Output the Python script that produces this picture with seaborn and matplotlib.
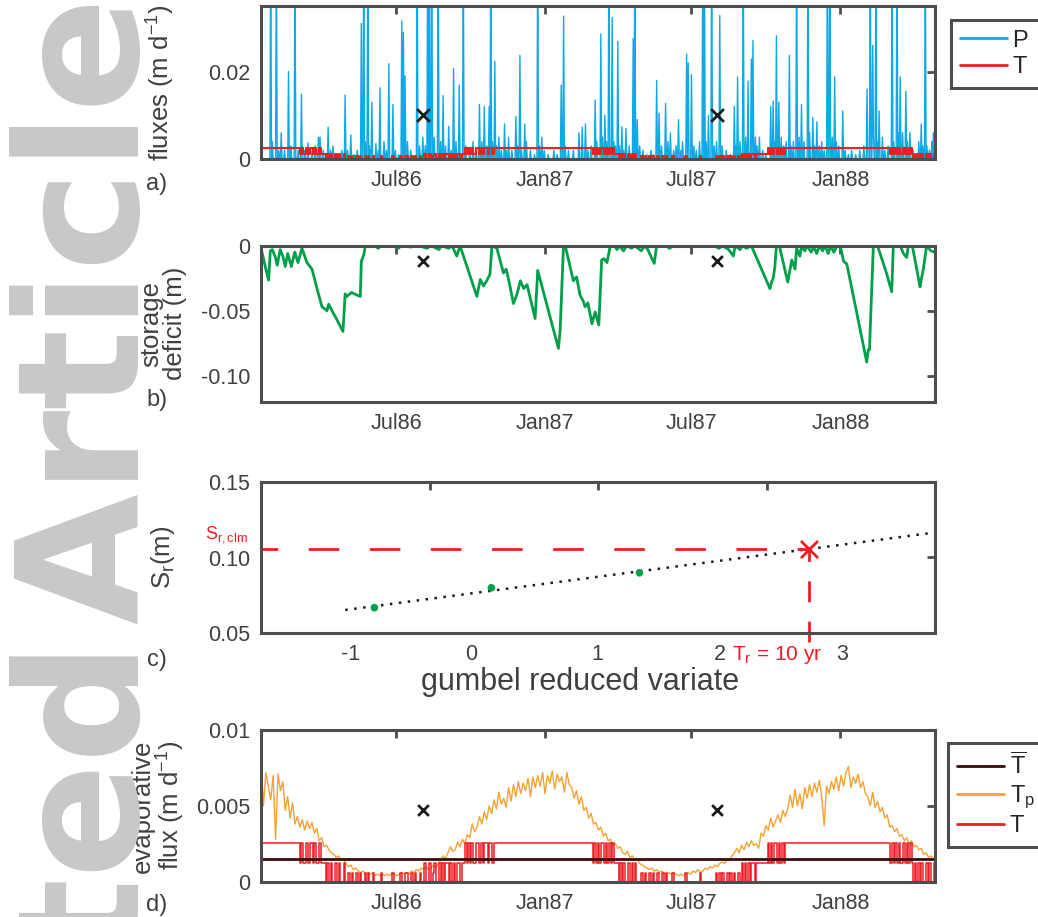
import numpy as np
import pandas as pd
import seaborn as sns
import matplotlib.pyplot as plt
import matplotlib.dates as mdates
from matplotlib.lines import Line2D

# ---------------- data ----------------
start = pd.Timestamp('1986-01-15')
n_days = 834

# rain events: day since start, P (m/d); 0.05 = spike clipped at top of axis
p_day = [11.5, 14, 19, 22, 25, 29, 34, 37, 42, 46, 50, 54, 58, 63, 67, 71, 73, 77, 83, 86,
         89, 95, 100, 104, 107, 111, 115, 119, 123.5, 127, 129, 132, 134, 137, 142, 145, 147, 152, 155, 158,
         163, 166, 170, 174, 176.5, 178, 181, 185, 193, 196, 200, 203, 206, 208, 211, 214, 218.6, 222, 225, 228,
         232, 235, 238, 241, 244.6, 249.5, 253, 258, 262, 266, 270, 273, 276, 279, 282, 284, 286, 289, 291, 294,
         297, 301, 303, 306, 310, 315, 317, 320, 322, 325.6, 328, 333, 338, 341.7, 344, 346.6, 350, 355, 362, 366,
         370.6, 373.5, 376, 380, 386, 393, 397, 401, 404, 408, 412.6, 415, 420, 422, 425, 427, 430, 433.6, 436, 438,
         441, 443, 446, 448, 451, 455, 460, 462, 465, 468, 472, 477, 482, 485, 489, 492, 495, 500, 503, 506,
         510, 513, 516, 519, 521, 526, 528, 531.6, 535, 538, 542, 545.5, 547.5, 550, 553, 557, 560, 563, 567, 570,
         575, 580, 585, 587, 589, 592, 596, 599, 602, 605.7, 608.5, 611, 613, 616, 620, 624, 630, 633, 635, 637.4,
         640, 643, 646, 649, 652.6, 655, 658, 662, 665, 668, 671, 675.7, 678, 682, 684, 687, 690, 693, 696, 700,
         703, 706, 708.6, 711, 714, 719, 722, 726, 730, 735, 740, 745, 749, 752.7, 755.5, 757, 759.7, 762, 764, 768,
         771, 775, 779.5, 782, 785.7, 788, 789.7, 793, 797, 799, 802, 806, 810, 813, 815.7, 818, 820.6, 823, 826, 829,
         831]
p_val = [0.05, 0.004, 0.05, 0.002, 0.006, 0.002, 0.020, 0.003, 0.05, 0.002, 0.0148, 0.002, 0.0037, 0.002, 0.003, 0.005, 0.005, 0.002, 0.0073, 0.002,
         0.003, 0.001, 0.002, 0.0146, 0.002, 0.0055, 0.001, 0.002, 0.031, 0.05, 0.004, 0.05, 0.003, 0.013, 0.0035, 0.002, 0.0163, 0.004, 0.002, 0.0218,
         0.0125, 0.002, 0.001, 0.0316, 0.029, 0.019, 0.004, 0.002, 0.05, 0.003, 0.005, 0.003, 0.05, 0.05, 0.05, 0.005, 0.05, 0.004, 0.0145, 0.003,
         0.0075, 0.002, 0.0207, 0.004, 0.0169, 0.05, 0.003, 0.002, 0.004, 0.002, 0.0125, 0.004, 0.012, 0.003, 0.012, 0.05, 0.004, 0.0223, 0.003, 0.005,
         0.002, 0.008, 0.002, 0.005, 0.002, 0.0097, 0.003, 0.0237, 0.002, 0.008, 0.004, 0.002, 0.001, 0.05, 0.003, 0.005, 0.002, 0.001, 0.002, 0.001,
         0.0169, 0.0327, 0.003, 0.002, 0.002, 0.006, 0.0073, 0.008, 0.002, 0.003, 0.0135, 0.004, 0.0286, 0.005, 0.010, 0.004, 0.05, 0.0324, 0.004, 0.003,
         0.0269, 0.003, 0.0074, 0.002, 0.007, 0.003, 0.0275, 0.05, 0.009, 0.003, 0.002, 0.001, 0.002, 0.001, 0.018, 0.0105, 0.003, 0.0127, 0.004, 0.006,
         0.002, 0.003, 0.009, 0.002, 0.004, 0.024, 0.022, 0.0193, 0.003, 0.002, 0.004, 0.05, 0.05, 0.004, 0.010, 0.05, 0.003, 0.004, 0.0328, 0.003,
         0.002, 0.001, 0.0121, 0.003, 0.0188, 0.004, 0.05, 0.005, 0.0178, 0.0229, 0.0271, 0.005, 0.003, 0.005, 0.002, 0.001, 0.012, 0.0133, 0.004, 0.0282,
         0.013, 0.005, 0.003, 0.004, 0.0237, 0.003, 0.004, 0.05, 0.005, 0.0125, 0.004, 0.05, 0.006, 0.0095, 0.003, 0.0085, 0.003, 0.004, 0.002, 0.05,
         0.05, 0.005, 0.0188, 0.004, 0.003, 0.011, 0.002, 0.001, 0.002, 0.001, 0.002, 0.003, 0.016, 0.05, 0.026, 0.005, 0.05, 0.004, 0.011, 0.005,
         0.002, 0.003, 0.05, 0.004, 0.05, 0.006, 0.0188, 0.006, 0.0155, 0.004, 0.006, 0.002, 0.001, 0.004, 0.008, 0.003, 0.05, 0.003, 0.002, 0.004,
         0.006]

# storage deficit (m), breakpoints
s_day = [0, 2.5, 6, 9.4, 11.5, 14, 17.6, 20, 23.8, 27, 30, 33, 37.5, 41.7, 45.8, 50.6, 56.8, 63, 69.2, 75.4,
         81.5, 83.6, 87.7, 93.9, 101.3, 104, 106, 112, 118.6, 122.7, 124, 127, 129, 140, 145, 148, 165, 170, 173, 185,
         195, 205, 210, 220, 223, 232, 236, 242, 246, 266.8, 271, 275, 279, 283, 285.4, 291.5, 299.7, 303, 306, 312,
         316.5, 320.6, 324.7, 328.8, 338.8, 342, 367.6, 369.7, 373.8, 376, 386, 390, 394.3, 398.5, 400.5, 404, 409, 413, 417.5, 421,
         424, 427.6, 431.7, 437, 440, 443, 448, 452, 458, 462, 470, 474, 478, 486, 489, 500, 505, 510, 560, 566,
         570, 578, 583.8, 586, 592, 595, 600, 606, 629, 631, 633, 635, 637, 641, 651, 656, 660, 662, 666, 668,
         672, 675, 680, 683, 687, 690, 694, 697, 701, 704, 708, 712, 716, 720, 724, 748.6, 750.5, 752, 756.8, 762,
         773, 779.5, 781.5, 790, 794, 798, 800, 805, 814.5, 816, 818.6, 822.7, 828, 833]
s_val = [-0.002, -0.0085, -0.018, -0.0265, -0.004, -0.003, -0.0085, -0.015, -0.003, -0.008, -0.016, -0.006, -0.016, -0.005, -0.013, -0.002, -0.013, -0.018, -0.033, -0.047,
         -0.050, -0.045, -0.050, -0.057, -0.066, -0.037, -0.039, -0.036, -0.038, -0.039, -0.012, -0.007, 0.0, 0.0, -0.002, 0.0, 0.0, -0.002, 0.0, -0.001,
         0.0, -0.002, 0.0, -0.003, 0.0, -0.002, 0.0, -0.008, 0.0, -0.039, -0.026, -0.031, -0.027, -0.022, 0.0, -0.002, -0.021, -0.018, -0.026, -0.0445,
         -0.037, -0.027, -0.033, -0.030, -0.056, -0.019, -0.079, -0.065, -0.001, 0.0, -0.027, -0.024, -0.038, -0.043, -0.047, -0.044, -0.060, -0.051, -0.061, -0.011,
         -0.010, -0.013, 0.0, 0.0, -0.003, 0.0, -0.004, 0.0, -0.002, 0.0, -0.004, 0.0, -0.003, -0.0136, 0.0, 0.0, -0.002, 0.0, 0.0, -0.002,
         0.0, -0.003, -0.008, 0.0, -0.003, 0.0, -0.002, 0.0, -0.033, -0.028, -0.025, -0.017, 0.0, -0.001, -0.028, -0.011, -0.018, -0.002, -0.008, 0.0,
         -0.004, 0.0, -0.005, -0.001, -0.006, 0.0, -0.004, 0.0, -0.006, 0.0, -0.005, 0.0, 0.0, -0.012, -0.014, -0.0895, -0.080, -0.080, 0.0, 0.0,
         -0.021, -0.0355, 0.0, 0.0, -0.006, -0.009, 0.0, 0.0, -0.0317, -0.026, -0.018, 0.0, -0.004, -0.005]

# potential transpiration Tp (mm/d), one value every 3 days
tp_mm = [8.0, 5.0, 7.2, 6.3, 5.4, 7.0, 2.8, 7.1, 6.0, 6.6,
         4.7, 5.6, 4.2, 5.2, 3.8, 4.3, 3.6, 4.1, 3.4, 4.0,
         3.5, 3.9, 3.2, 3.5, 2.7, 2.9, 2.3, 2.4, 2.1, 1.9,
         1.8, 1.6, 1.7, 1.4, 1.5, 1.2, 1.0, 1.1, 0.8, 0.9,
         0.7, 0.6, 0.7, 0.5, 0.6, 0.5, 0.6, 0.4, 0.5, 0.4,
         0.5, 0.4, 0.5, 0.4, 0.6, 0.5, 0.4, 0.5, 0.6, 0.5,
         0.6, 0.5, 0.7, 0.6, 0.8, 0.7, 0.9, 0.8, 1.0, 0.8,
         0.9, 1.1, 0.9, 1.2, 1.4, 1.7, 1.5, 1.9, 2.3, 2.0,
         2.1, 2.6, 2.3, 2.8, 2.5, 3.1, 2.9, 3.8, 3.3, 3.6,
         4.3, 3.8, 4.6, 4.1, 5.0, 4.5, 5.4, 4.8, 5.9, 5.1,
         5.5, 4.9, 6.2, 5.3, 6.4, 5.6, 6.6, 5.8, 6.5, 6.0,
         6.8, 5.6, 6.9, 6.2, 7.0, 6.3, 7.2, 5.8, 7.0, 6.5,
         7.3, 6.1, 7.1, 6.6, 6.9, 5.9, 7.2, 6.4, 6.2, 5.5,
         6.0, 5.1, 5.6, 4.7, 4.9, 4.2, 4.5, 3.8, 3.9, 3.4,
         3.6, 3.0, 3.2, 2.7, 2.8, 2.4, 2.5, 2.2, 2.3, 1.9,
         1.8, 2.0, 1.6, 1.7, 1.4, 1.5, 1.2, 1.1, 1.0, 0.9,
         0.8, 0.9, 0.7, 0.8, 0.6, 0.7, 0.6, 0.5, 0.6, 0.5,
         0.6, 0.5, 0.4, 0.5, 0.4, 0.5, 0.6, 0.5, 0.7, 0.6,
         0.8, 0.6, 0.7, 0.9, 0.8, 1.0, 0.9, 1.1, 1.0, 1.2,
         1.3, 1.2, 1.5, 1.4, 1.7, 1.9, 2.2, 1.9, 2.4, 2.1,
         2.6, 2.3, 2.7, 2.4, 2.5, 2.2, 3.2, 3.0, 3.7, 3.4,
         4.2, 3.6, 4.0, 4.4, 3.9, 4.7, 4.3, 4.8, 5.7, 4.9,
         6.1, 5.0, 5.8, 4.8, 6.2, 5.5, 6.4, 5.6, 6.5, 5.9,
         6.7, 5.6, 3.7, 6.3, 5.8, 6.6, 6.1, 6.9, 6.0, 7.0,
         6.3, 7.2, 7.6, 6.2, 6.9, 6.5, 7.1, 6.2, 6.6, 5.8,
         5.6, 5.0, 5.9, 4.9, 5.3, 4.6, 4.9, 4.2, 4.4, 3.6,
         3.7, 3.3, 3.5, 3.0, 3.1, 2.7, 2.9, 2.5, 2.7, 2.3,
         2.4, 2.1, 2.2, 1.8, 1.9, 1.6, 1.7, 1.5]

# actual transpiration T, one level code every 2 days
t_code = ('HHHHHHHHHH' 'HHHHHHHHHH' 'HHH'
          'HMHMMHMHHMHMMHMM' 'MZMZMZZMZMZZMZ' 'ZLZLZZLZLZZLZLZZL' 'ZZZZLZZZZZZLZZZ'
          'ZLZZLLZZLZLZZLZ' 'ZMZZMZLMZZMZMZMMZMZMZMMZM' 'MHMHMHMMHHMHMHHMHHMH'
          'HHHHHHHHHH' 'HHHHHHHHHH' 'HHHHHHHHHH' 'HHHHHHHHHH' 'HHHHHHHHHH' 'HHHHHHHHHH'
          'MHMHMHHMHMHMHMM' 'MZMZMZZMZMZMZZ' 'ZLZLZZLZLZZLZZLZLZZZLZZ'
          'ZZZZZLZZZZZZZZLZZZZZZZZZ' 'LZLZLZZLZLZLZZL' 'ZMZMZMZMMZMM' 'MMMMM' 'HMHMHHMHMHMHHH'
          'HHHHHHHHHH' 'HHHHHHHHHH' 'HHHHHHHHHH' 'HHHHHHHHHH' 'HHHHHHHHHH' 'HHHHHHHHHH' 'HH'
          'MHMHMHMMHMHMHM' 'ZMZMZMZZMZMZZM')
t_level_mm = {'H': 2.57, 'M': 1.25, 'L': 0.6, 'Z': 0.0}
t_bar = 0.00148

# black markers shown in panels a, b, d
mark_day = [200, 564]

# gumbel plot
gumbel_x = [-0.327, 0.367, 1.246]
gumbel_s = [0.0669, 0.0800, 0.0899]
fit_x = [-0.5, 3.0]
fit_s = [0.0654, 0.1165]
s_clm = 0.1059
t10_x = 2.25
c_tick_pos = [-1, 0, 1, 2, 3]
c_label_pos = [-0.468, 0.250, 0.996, 1.724, 2.448]
c_labels = ['-1', '0', '1', '2', '3']

# ---------------- style ----------------
sns.set_theme(style='white')
plt.rcParams['font.family'] = ['Liberation Sans', 'DejaVu Sans']
plt.rcParams['mathtext.fontset'] = 'custom'
plt.rcParams['mathtext.rm'] = 'Liberation Sans'
plt.rcParams['mathtext.it'] = 'Liberation Sans:italic'
plt.rcParams['axes.unicode_minus'] = False

SPINE = '#4d4d4d'
TXT = '#404040'
BLUE = '#0fa9e6'
RED = '#ee1d23'
GREEN = '#00a04a'
ORANGE = '#f4a233'
DARK = '#3a0c0c'

fig = plt.figure(figsize=(10.38, 9.17), dpi=100)
W, H = 1038, 917


def add_ax(top, bottom):
    return fig.add_axes([261 / W, (H - bottom) / H, 674 / W, (bottom - top) / H])


def style(ax):
    for sp in ax.spines.values():
        sp.set_linewidth(2.2)
        sp.set_color(SPINE)
    ax.tick_params(which='major', direction='in', length=6, width=2, color=SPINE,
                   top=True, right=True, labelsize=15.5, labelcolor=TXT, pad=8)
    ax.set_xlabel('')
    ax.set_ylabel('')


def date_axis(ax):
    ax.set_xlim(start, start + pd.Timedelta(days=833))
    ax.xaxis.set_major_locator(mdates.MonthLocator(bymonth=[1, 7]))
    ax.xaxis.set_major_formatter(mdates.DateFormatter('%b%y'))


def box_legend(ax, handles, labels, anchor, spacing):
    leg = ax.legend(handles, labels, loc='upper left', bbox_to_anchor=anchor, fontsize=17,
                    handlelength=2.0, handletextpad=0.25, borderpad=0.4, labelspacing=spacing,
                    frameon=True, fancybox=False, edgecolor=SPINE, framealpha=1, borderaxespad=0)
    leg.get_frame().set_linewidth(2.2)
    return leg


dates = start + pd.to_timedelta(np.arange(n_days), 'D')
p_daily = np.zeros(n_days)
for d, v in zip(p_day, p_val):
    p_daily[int(round(d))] = v
t_days = np.arange(len(t_code)) * 2
t_vals = np.array([t_level_mm[c] for c in t_code]) / 1000
t_dates = start + pd.to_timedelta(np.append(t_days, 833), 'D')
t_vals = np.append(t_vals, t_vals[-1])
tp_dates = start + pd.to_timedelta(np.arange(len(tp_mm)) * 3, 'D')
tp_vals = np.array(tp_mm) / 1000
s_dates = start + pd.to_timedelta(np.array(s_day), 'D')
m_dates = start + pd.to_timedelta(np.array(mark_day), 'D')

# ---------------- a) fluxes ----------------
ax_a = add_ax(6, 159)
sns.lineplot(x=dates, y=p_daily, ax=ax_a, color=BLUE, lw=1.0, estimator=None, sort=False)
sns.lineplot(x=t_dates, y=t_vals, ax=ax_a, color=RED, lw=1.5, estimator=None, sort=False,
             drawstyle='steps-post')
sns.scatterplot(x=m_dates, y=[0.01, 0.01], ax=ax_a, marker='x', color='#1a1a1a', s=85,
                linewidth=2, zorder=5)
date_axis(ax_a)
ax_a.set_ylim(0, 0.035)
ax_a.set_yticks([0, 0.02], ['0', '0.02'])
style(ax_a)
ax_a.set_ylabel('fluxes (m d$^{\\mathregular{-1}}$)', fontsize=18.5, color=TXT)
ax_a.yaxis.set_label_coords(-0.125, 0.5)
box_legend(ax_a, [Line2D([], [], color=BLUE, lw=2), Line2D([], [], color=RED, lw=2)],
           ['P     ', 'T     '], (1.023, 0.908), 0.2)

# ---------------- b) storage deficit ----------------
ax_b = add_ax(245.7, 401.7)
sns.lineplot(x=s_dates, y=s_val, ax=ax_b, color=GREEN, lw=2, estimator=None, sort=False)
sns.scatterplot(x=m_dates, y=[-0.0116, -0.0116], ax=ax_b, marker='x', color='#1a1a1a', s=60,
                linewidth=2, zorder=5)
date_axis(ax_b)
ax_b.set_ylim(-0.12, 0)
ax_b.set_yticks([-0.10, -0.05, 0], ['-0.10', '-0.05', '0'])
style(ax_b)
ax_b.set_ylabel('storage\ndeficit (m)', fontsize=18.5, color=TXT, linespacing=1.0)
ax_b.yaxis.set_label_coords(-0.11, 0.5)

# ---------------- c) gumbel ----------------
ax_c = add_ax(481.7, 633.3)
sns.lineplot(x=fit_x, y=fit_s, ax=ax_c, color='#1a1a1a', lw=1.8, ls=(0, (1, 2.6)), estimator=None)
sns.scatterplot(x=gumbel_x, y=gumbel_s, ax=ax_c, color=GREEN, s=30, edgecolor='none', zorder=4)
ax_c.hlines(s_clm, -1, t10_x, color=RED, lw=2, linestyles=(5, (11, 11)))
ax_c.vlines(t10_x, 0.0445, s_clm, color=RED, lw=2, linestyles=(0, (7.5, 7)), clip_on=False)
sns.scatterplot(x=[t10_x], y=[s_clm], ax=ax_c, marker='x', color=RED, s=150, linewidth=2, zorder=5)
ax_c.set_xlim(-1, 3)
ax_c.set_ylim(0.05, 0.15)
ax_c.set_yticks([0.05, 0.10, 0.15], ['0.05', '0.10', '0.15'])
ax_c.set_xticks(c_tick_pos, [''] * 5)
ax_c.set_xticks(c_label_pos, c_labels, minor=True)
style(ax_c)
ax_c.tick_params(which='minor', length=0, labelsize=15.5, labelcolor=TXT, pad=8, bottom=True, top=False)
ax_c.set_ylabel('S$_{\\mathregular{r}}$(m)', fontsize=18.5, color=TXT)
ax_c.yaxis.set_label_coords(-0.125, 0.5)
ax_c.set_xlabel('gumbel reduced variate', fontsize=22, color=TXT)
ax_c.xaxis.set_label_coords(0.473, -0.225)
ax_c.text(-1.207, s_clm + 0.009, 'S$_{\\mathregular{r,clm}}$', color=RED, fontsize=13,
          ha='center', va='center', clip_on=False)
ax_c.text(t10_x - 0.19, 0.0357, 'T$_{\\mathregular{r}}$ = 10 yr', color=RED, fontsize=15,
          ha='center', va='center', clip_on=False)

# ---------------- d) evaporative flux ----------------
ax_d = add_ax(730, 881.7)
sns.lineplot(x=tp_dates, y=tp_vals, ax=ax_d, color=ORANGE, lw=1.0, estimator=None, sort=False)
sns.lineplot(x=t_dates, y=t_vals, ax=ax_d, color=RED, lw=1.1, estimator=None, sort=False,
             drawstyle='steps-post')
ax_d.axhline(t_bar, color=DARK, lw=2)
sns.scatterplot(x=m_dates, y=[0.00473, 0.00473], ax=ax_d, marker='x', color='#1a1a1a', s=60,
                linewidth=2, zorder=5)
date_axis(ax_d)
ax_d.set_ylim(0, 0.01)
ax_d.set_yticks([0, 0.005, 0.01], ['0', '0.005', '0.01'])
style(ax_d)
ax_d.set_ylabel('evaporative\nflux (m d$^{\\mathregular{-1}}$)', fontsize=18.5, color=TXT,
                linespacing=1.0)
ax_d.yaxis.set_label_coords(-0.11, 0.5)
box_legend(ax_d, [Line2D([], [], color=DARK, lw=2), Line2D([], [], color=ORANGE, lw=2),
                  Line2D([], [], color=RED, lw=2)],
           ['$\\overline{\\mathregular{T}}$     ', 'T$_{\\mathregular{p}}$    ', 'T     '],
           (1.019, 0.914), 0.18)

# panel letters
for lab, ypx in [('a)', 184), ('b)', 400), ('c)', 660), ('d)', 905)]:
    fig.text(157 / W, (H - ypx) / H, lab, fontsize=17, color=TXT, ha='center', va='center')

# watermark (hair space keeps the word gap as narrow as in the original)
fig.text(139 / W, (H + 3) / H, 'Accepted\u200aArticle', rotation=90, rotation_mode='anchor',
         ha='right', va='baseline', fontsize=122, fontweight='bold', family='DejaVu Sans',
         color='#c8c8c8', zorder=0)

fig.savefig('out.png', dpi=100)
